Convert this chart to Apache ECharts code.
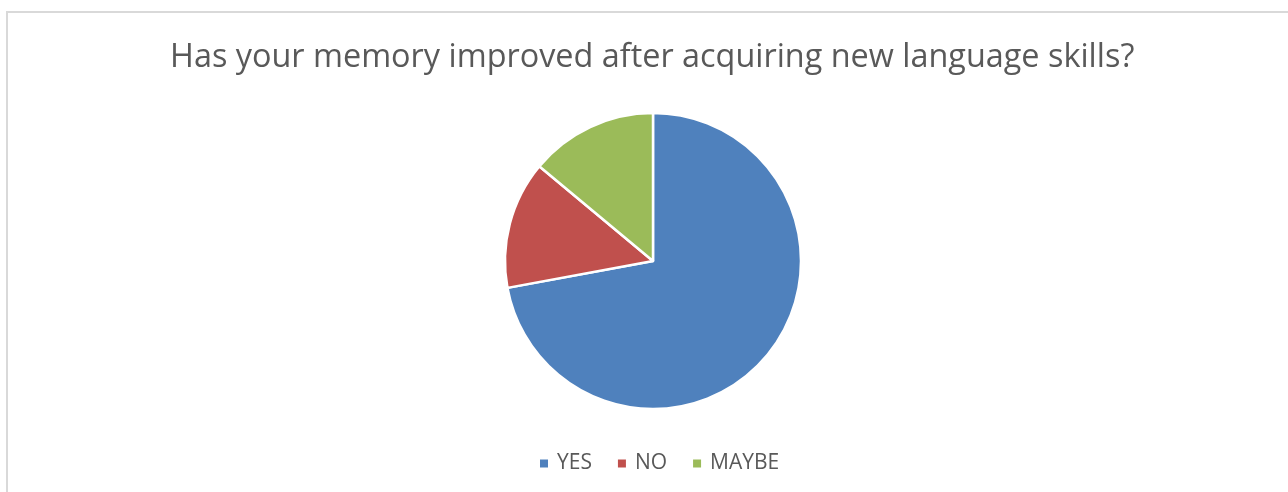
<!DOCTYPE html>
<html>
<head>
<meta charset="utf-8">
<script src="https://cdn.jsdelivr.net/npm/echarts@6/dist/echarts.min.js"></script>
<style>
html,body{margin:0;padding:0;background:#fff;overflow:hidden;}
#frame{position:absolute;left:6px;top:11px;width:1400px;height:600px;border:2px solid #d9d9d9;box-sizing:border-box;}
#chart{position:absolute;left:0;top:0;width:1288px;height:492px;}
</style>
</head>
<body>
<div id="frame"></div>
<div id="chart"></div>
<script>
const titleText = 'Has your memory improved after acquiring new language skills?';
const categories = ['YES', 'NO', 'MAYBE'];
const values = [31, 6, 6];
const colors = ['#4F81BD', '#C0504D', '#9BBB59'];

const chart = echarts.init(document.getElementById('chart'));
chart.setOption({
  animation: false,
  backgroundColor: 'transparent',
  color: colors,
  title: {
    text: titleText,
    left: 165,
    top: 37,
    textStyle: {
      fontFamily: 'Open Sans',
      fontSize: 32.4,
      fontWeight: 'normal',
      color: '#595959'
    }
  },
  legend: {
    data: categories,
    top: 448,
    left: 533,
    icon: 'rect',
    itemWidth: 10,
    itemHeight: 10,
    itemGap: 24,
    textStyle: {
      fontFamily: 'Open Sans',
      fontSize: 21,
      color: '#595959',
      padding: [0, 0, 0, 3]
    }
  },
  series: [{
    type: 'pie',
    center: [653, 261],
    radius: [0, 148],
    startAngle: 90,
    clockwise: true,
    label: { show: false },
    labelLine: { show: false },
    itemStyle: { borderColor: '#fff', borderWidth: 2.5 },
    emphasis: { disabled: true },
    data: categories.map((c, i) => ({ name: c, value: values[i] }))
  }]
});
</script>
</body>
</html>
